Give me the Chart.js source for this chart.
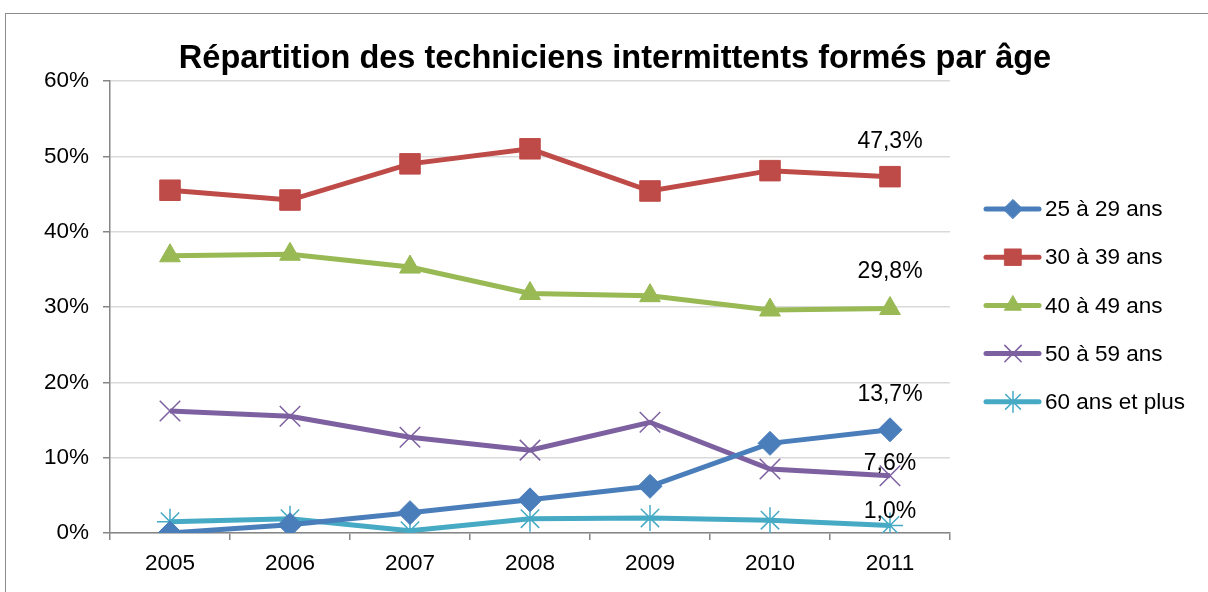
<!DOCTYPE html>
<html>
<head>
<meta charset="utf-8">
<script src="https://cdn.jsdelivr.net/npm/chart.js@4/dist/chart.umd.min.js"></script>
<style>
  html, body { margin: 0; padding: 0; background: #fff; }
  #wrap { position: relative; width: 1208px; height: 592px; overflow: hidden; }
  #frame { position: absolute; left: 5px; top: 13px; width: 1400px; height: 800px;
           border-left: 1.5px solid #8c8c8c; border-top: 1.5px solid #8c8c8c; }
  canvas { position: absolute; left: 0; top: 0; }
</style>
</head>
<body>
<div id="wrap">
  <div id="frame"></div>
  <canvas id="myCanvas" width="1208" height="592"></canvas>
</div>
<script>
// data (percent)
const years = ["2005", "2006", "2007", "2008", "2009", "2010", "2011"];
const ages25_29 = [0.0, 1.1, 2.7, 4.4, 6.2, 11.9, 13.7];
const ages30_39 = [45.5, 44.2, 49.0, 51.0, 45.4, 48.1, 47.3];
const ages40_49 = [36.8, 37.0, 35.3, 31.8, 31.5, 29.6, 29.8];
const ages50_59 = [16.2, 15.5, 12.7, 11.0, 14.7, 8.5, 7.6];
const ages60plus = [1.5, 1.9, 0.3, 1.9, 2.0, 1.7, 1.0];
const seriesNames = ["25 à 29 ans", "30 à 39 ans", "40 à 49 ans", "50 à 59 ans", "60 ans et plus"];
const yTicks = [0, 10, 20, 30, 40, 50, 60];

const FONT = "'Liberation Sans', Arial, sans-serif";

function fmt(v) {
  return v.toFixed(1).replace(".", ",") + "%";
}

// draws the title, the labels on the last points and the excel-like legend
const extras = {
  id: "extras",
  afterDatasetsDraw(chart) {
    const ctx = chart.ctx;
    ctx.save();

    // title
    ctx.fillStyle = "#000";
    ctx.font = "bold 32.5px " + FONT;
    ctx.textAlign = "center";
    ctx.textBaseline = "middle";
    ctx.fillText("Répartition des techniciens intermittents formés par âge", 615, 59);

    // last value labels
    const lift = [35, 35, 37, 12, 14];
    ctx.font = "23px " + FONT;
    chart.data.datasets.forEach((ds, i) => {
      const meta = chart.getDatasetMeta(i);
      const last = meta.data[meta.data.length - 1];
      ctx.fillText(fmt(ds.data[ds.data.length - 1]), last.x, last.y - lift[i]);
    });

    // legend
    ctx.textAlign = "left";
    ctx.font = "22.5px " + FONT;
    chart.data.datasets.forEach((ds, i) => {
      const y = 209 + i * 48.2;
      ctx.strokeStyle = ds.borderColor;
      ctx.lineWidth = 5;
      ctx.lineCap = "round";
      ctx.beginPath();
      ctx.moveTo(986, y);
      ctx.lineTo(1039, y);
      ctx.stroke();
      ctx.fillStyle = ds.pointBackgroundColor;
      ctx.strokeStyle = ds.pointBorderColor;
      ctx.lineWidth = ds.pointBorderWidth;
      Chart.helpers.drawPoint(ctx, {
        pointStyle: ds.pointStyle, rotation: 0,
        radius: ds.pointRadius * 0.8, borderWidth: ds.pointBorderWidth
      }, 1013, y);
      ctx.fillStyle = "#000";
      ctx.fillText(ds.label, 1045, y + 1);
    });

    ctx.restore();
  }
};

function serie(label, data, color, style, radius, bw) {
  return {
    label: label,
    data: data,
    borderColor: color,
    backgroundColor: color,
    borderWidth: 5,
    pointStyle: style,
    pointRadius: radius,
    pointHoverRadius: radius,
    pointBackgroundColor: color,
    pointBorderColor: color,
    pointBorderWidth: bw,
    tension: 0
  };
}

const ctx = document.getElementById("myCanvas");
new Chart(ctx, {
  type: "line",
  data: {
    labels: years,
    datasets: [
      serie(seriesNames[0], ages25_29, "#4A7EBB", "rectRot", 12, 1),
      serie(seriesNames[1], ages30_39, "#BE4B48", "rect", 14.5, 1),
      serie(seriesNames[2], ages40_49, "#98B954", "triangle", 12, 1),
      serie(seriesNames[3], ages50_59, "#7D60A0", "crossRot", 14.5, 1.5),
      serie(seriesNames[4], ages60plus, "#46AAC5", "star", 13, 1.5)
    ]
  },
  options: {
    responsive: false,
    animation: false,
    layout: { padding: { left: 0, top: 81, right: 258, bottom: 0 } },
    plugins: {
      legend: { display: false },
      title: { display: false },
      tooltip: { enabled: false }
    },
    scales: {
      x: {
        offset: true,
        grid: { display: true, drawOnChartArea: false, drawTicks: true, tickLength: 7,
                tickColor: "#868686", lineWidth: 1.5, offset: true },
        border: { color: "#868686", width: 1.5 },
        ticks: { color: "#000", font: { family: FONT, size: 22.5 }, padding: 10, maxRotation: 0 },
        afterFit(scale) { scale.height = 59; }
      },
      y: {
        min: 0,
        max: 60,
        afterBuildTicks(scale) { scale.ticks = yTicks.map(v => ({ value: v })); },
        grid: { color: "#D9D9D9", lineWidth: 1.5, drawTicks: true, tickLength: 7, tickColor: "#868686" },
        border: { color: "#868686", width: 1.5 },
        ticks: { color: "#000", font: { family: FONT, size: 22.5 }, padding: 14,
                 callback: v => v + "%" },
        afterFit(scale) { scale.width = 110; }
      }
    }
  },
  plugins: [extras]
});
</script>
</body>
</html>
